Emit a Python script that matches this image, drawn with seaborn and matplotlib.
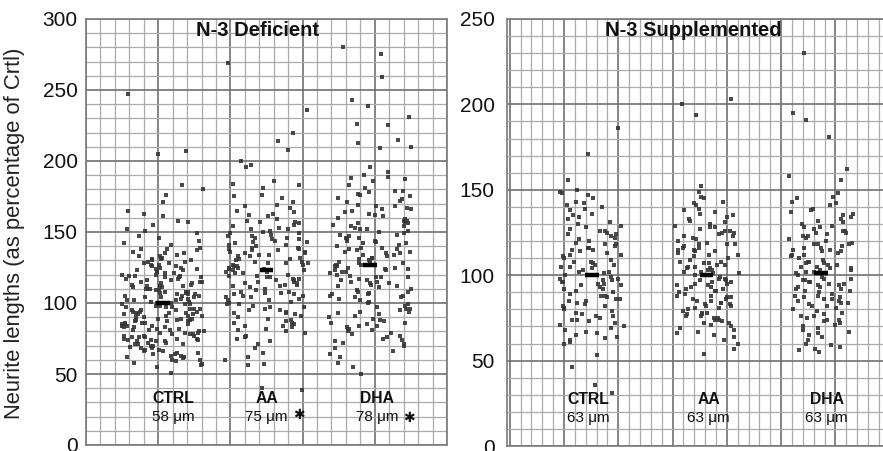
import numpy as np
import pandas as pd
import matplotlib
matplotlib.use("Agg")
import matplotlib.pyplot as plt
import seaborn as sns
from matplotlib.ticker import MultipleLocator, NullFormatter

categories = ["CTRL", "AA", "DHA"]

def_ctrl = [247, 207, 205, 183, 180, 176, 171,
            165, 163, 161, 158, 157, 155, 152, 151,
            149, 147, 146, 144, 142, 141,
            139, 138, 138, 137, 136, 135, 135, 134, 133, 133, 132, 131, 131, 130, 130,
            129, 129, 128, 128, 127, 127, 126, 126, 125, 125, 124, 124, 123, 123, 122, 122, 121, 121, 120, 120,
            119, 119, 118, 118, 118, 117, 117, 116, 116, 115, 115, 115, 114, 114, 113, 113, 112, 112, 112, 111, 111, 110, 110, 110, 119,
            109, 109, 108, 108, 108, 107, 107, 106, 106, 106, 105, 105, 104, 104, 104, 103, 103, 102, 102, 102, 101, 101, 100, 100, 105,
            99, 99, 99, 98, 98, 97, 97, 97, 96, 96, 95, 95, 95, 94, 94, 93, 93, 93, 92, 92, 91, 91, 91, 90, 90, 96, 94, 92,
            89, 89, 89, 88, 88, 87, 87, 87, 86, 86, 85, 85, 85, 84, 84, 83, 83, 83, 82, 82, 81, 81, 81, 80, 80, 86, 84, 88,
            79, 79, 79, 78, 78, 77, 77, 77, 76, 76, 75, 75, 75, 74, 74, 73, 73, 73, 72, 72, 71, 71, 71, 70, 70, 76, 74, 78,
            69, 68, 68, 67, 66, 66, 65, 64, 64, 63, 62, 62, 61, 60, 60, 67, 65, 63,
            59, 58, 57, 56, 55, 51]
def_aa = [269, 236, 220, 214, 208, 200, 197, 196, 186, 184, 183, 181, 176, 175, 174, 171,
          169, 168, 167, 165, 164, 163, 162, 161,
          159, 158, 157, 157, 156, 155, 154, 153, 152, 152, 151, 150,
          149, 149, 148, 147, 147, 146, 145, 145, 144, 143, 143, 142, 141, 141, 140, 146,
          139, 139, 138, 137, 137, 136, 135, 135, 134, 133, 133, 132, 131, 131, 130, 136, 134, 138,
          129, 129, 128, 128, 127, 126, 126, 125, 125, 124, 123, 123, 122, 121, 121, 120, 127, 124, 122, 128,
          119, 119, 118, 117, 117, 116, 115, 115, 114, 113, 113, 112, 111, 110, 118, 116, 114, 112,
          109, 108, 108, 107, 106, 105, 105, 104, 103, 102, 102, 101, 100, 106, 104, 107,
          99, 98, 97, 96, 95, 94, 93, 92, 91, 90, 97, 95, 93, 99,
          89, 88, 87, 86, 85, 84, 83, 82, 81, 80, 86, 84,
          79, 77, 76, 75, 73, 71,
          68, 65, 62, 60,
          57, 56,
          40, 39]
def_dha = [280, 275, 259, 243, 239, 231, 226, 225, 215, 213, 210, 209, 196, 192, 190,
           189, 188, 187, 186, 183, 181,
           179, 179, 178, 177, 176, 175, 174, 173, 172, 171,
           169, 168, 168, 167, 166, 165, 164, 163, 162, 161, 160, 166,
           159, 158, 158, 157, 156, 155, 154, 154, 153, 152, 151, 150, 156, 152,
           149, 148, 148, 147, 146, 145, 144, 144, 143, 142, 141, 140, 146, 142,
           139, 139, 138, 137, 136, 135, 135, 134, 133, 132, 132, 131, 130, 136, 134, 138,
           129, 129, 128, 127, 127, 126, 125, 125, 124, 123, 123, 122, 121, 120, 126, 124, 128, 122,
           119, 118, 118, 117, 116, 115, 115, 114, 113, 112, 112, 111, 110, 116, 114, 118,
           109, 108, 107, 106, 105, 105, 104, 103, 102, 101, 100, 106, 104, 108,
           99, 98, 97, 96, 95, 94, 93, 92, 91, 90, 96, 94,
           89, 88, 87, 86, 85, 84, 83, 82, 81, 80, 86, 84,
           79, 78, 77, 76, 75, 74, 73, 72, 71, 70,
           68, 66, 64, 62,
           58, 55, 50]

sup_ctrl = [186, 171, 156, 150,
            149, 148, 147, 145, 143, 142, 141, 140,
            139, 138, 136, 135, 134, 133, 131, 130,
            129, 128, 127, 126, 125, 124, 124, 123, 122, 121, 120, 126,
            119, 118, 118, 117, 116, 115, 115, 114, 113, 112, 112, 111, 110, 116,
            109, 108, 108, 107, 106, 105, 105, 104, 103, 102, 102, 101, 100, 106,
            99, 98, 98, 97, 96, 95, 95, 94, 93, 92, 92, 91, 90, 96, 94, 97,
            89, 88, 88, 87, 86, 85, 85, 84, 83, 82, 82, 81, 80, 86,
            79, 78, 77, 76, 75, 74, 73, 72, 71, 70, 76, 74,
            69, 68, 67, 66, 65, 64, 63, 62, 61, 60,
            53, 46, 36, 31]
sup_aa = [203, 200, 194, 152,
          149, 146, 145, 143, 142, 141,
          139, 138, 137, 136, 135, 134, 133, 132, 131, 130,
          129, 128, 127, 126, 125, 125, 124, 123, 122, 121, 120, 126, 123, 128,
          119, 118, 118, 117, 116, 115, 115, 114, 113, 112, 112, 111, 110, 116, 114, 118,
          109, 108, 108, 107, 106, 105, 105, 104, 103, 102, 102, 101, 100, 106, 104, 107, 103, 101,
          99, 98, 98, 97, 96, 95, 95, 94, 93, 92, 92, 91, 90, 96, 94, 97, 93, 91,
          89, 88, 88, 87, 86, 85, 85, 84, 83, 82, 82, 81, 80, 86, 84, 87, 83, 81,
          79, 78, 78, 77, 76, 75, 75, 74, 73, 72, 72, 71, 70, 76, 74, 77,
          69, 68, 67, 66, 65, 64, 62, 60,
          57, 54]
sup_dha = [230, 195, 191, 181, 162, 158, 156,
           148, 146, 145, 143, 142, 141,
           139, 138, 137, 136, 135, 134, 133, 132, 131, 130,
           129, 128, 127, 126, 125, 125, 124, 123, 122, 121, 120, 126, 123, 128,
           119, 118, 118, 117, 116, 115, 115, 114, 113, 112, 112, 111, 110, 116, 114, 118,
           109, 108, 108, 107, 106, 105, 105, 104, 103, 102, 102, 101, 100, 106, 104, 107, 103, 101,
           99, 98, 98, 97, 96, 95, 95, 94, 93, 92, 92, 91, 90, 96, 94, 97, 93, 91,
           89, 88, 88, 87, 86, 85, 85, 84, 83, 82, 82, 81, 80, 86, 84, 87,
           79, 78, 77, 76, 75, 74, 73, 72, 71, 70, 76, 74,
           69, 68, 67, 66, 65, 64, 62, 60,
           59, 58, 57, 56, 55]

def_means = [100, 123, 127]
sup_means = [100, 100, 101]
def_lengths = ["58 \u03bcm", "75 \u03bcm", "78 \u03bcm"]
sup_lengths = ["63 \u03bcm", "63 \u03bcm", "63 \u03bcm"]
def_signif = ["", "\u2731", "\u2731"]
panel_titles = ["N-3 Deficient", "N-3 Supplemented"]
y_label = "Neurite lengths (as percentage of Crtl)"


def make_df(groups):
    rows = []
    for cat, vals in zip(categories, groups):
        rows += [(cat, v) for v in vals]
    return pd.DataFrame(rows, columns=["group", "value"])


df_def = make_df([def_ctrl, def_aa, def_dha])
df_sup = make_df([sup_ctrl, sup_aa, sup_dha])

sns.set_theme(style="white")
plt.rcParams["font.family"] = ["Liberation Sans", "DejaVu Sans"]
np.random.seed(7)

W, H = 883, 451
fig = plt.figure(figsize=(W / 100, H / 100), dpi=100)
axL = fig.add_axes([86 / W, 6 / H, 361 / W, 426 / H])
axR = fig.add_axes([507 / W, 5 / H, 381 / W, 427 / H])

panels = [
    dict(ax=axL, df=df_def, means=def_means, lengths=def_lengths, ymax=300, jitter=0.40,
         xlim=(-0.744, 2.744), base=0.6976, off=-0.744, bar=0.065,
         cat_x=[0.10, 1.0, 2.07], cat_y=33, len_y=20, title=panel_titles[0], title_x=0.476),
    dict(ax=axR, df=df_sup, means=sup_means, lengths=sup_lengths, ymax=250, jitter=0.28,
         xlim=(-0.742, 2.585), base=0.4742, off=-0.2445, bar=0.06,
         cat_x=[-0.03, 1.02, 2.05], cat_y=27, len_y=16.5, title=panel_titles[1], title_x=0.488),
]

for p in panels:
    ax = p["ax"]
    sns.stripplot(data=p["df"], x="group", y="value", order=categories, ax=ax,
                  jitter=p["jitter"], color="#363636", size=2.4, marker="s",
                  linewidth=0, alpha=0.9, zorder=3)
    xs = np.arange(len(categories))
    ax.hlines(p["means"], xs - p["bar"], xs + p["bar"], color="black", lw=3.2, zorder=5)
    ax.set_xlim(*p["xlim"])
    ax.set_ylim(0, p["ymax"])
    ax.xaxis.set_major_locator(MultipleLocator(p["base"], offset=p["off"]))
    ax.xaxis.set_minor_locator(MultipleLocator(p["base"] / 5, offset=p["off"]))
    ax.xaxis.set_major_formatter(NullFormatter())
    ax.xaxis.set_minor_formatter(NullFormatter())
    ax.yaxis.set_major_locator(MultipleLocator(50))
    ax.yaxis.set_minor_locator(MultipleLocator(10))
    ax.set_axisbelow(True)
    ax.grid(which="minor", color="#ababab", lw=0.9)
    ax.grid(which="major", color="#707070", lw=1.2)
    ax.tick_params(axis="x", which="both", length=0)
    ax.set_xlabel("")
    ax.set_ylabel("")
    for s in ax.spines.values():
        s.set_color("#7a7a7a")
        s.set_linewidth(1.2)
    for i, cat in enumerate(categories):
        ax.text(p["cat_x"][i], p["cat_y"], cat, ha="center", va="center",
                fontsize=11.3, fontweight="bold", color="#111111", zorder=6)
        ax.text(p["cat_x"][i], p["len_y"], p["lengths"][i], ha="center", va="center",
                fontsize=11, color="#111111", zorder=6)
    ax.text(p["title_x"], 0.974, p["title"], transform=ax.transAxes, ha="center",
            va="center", fontsize=14.5, fontweight="bold", color="#111111", zorder=6)

# significance markers (left panel)
sig_pos = [(1.31, 21), (2.38, 19)]
for (sx, sy), sig in zip(sig_pos, def_signif[1:]):
    axL.text(sx, sy, sig, ha="center", va="center", fontsize=10,
             family=["DejaVu Sans"], color="#111111", zorder=6)

axL.tick_params(axis="y", which="major", labelsize=15, length=4, width=1,
                color="#777777", pad=2, labelcolor="#111111")
axL.tick_params(axis="y", which="minor", length=2.5, width=0.8, color="#999999")
axR.tick_params(axis="y", which="both", labelsize=15, length=0, pad=9,
                labelcolor="#111111")

fig.text(15 / W, 1 - 233 / H, y_label, rotation=90, ha="center", va="center",
         fontsize=15.8, color="#222222")

fig.savefig("out.png", dpi=100)
